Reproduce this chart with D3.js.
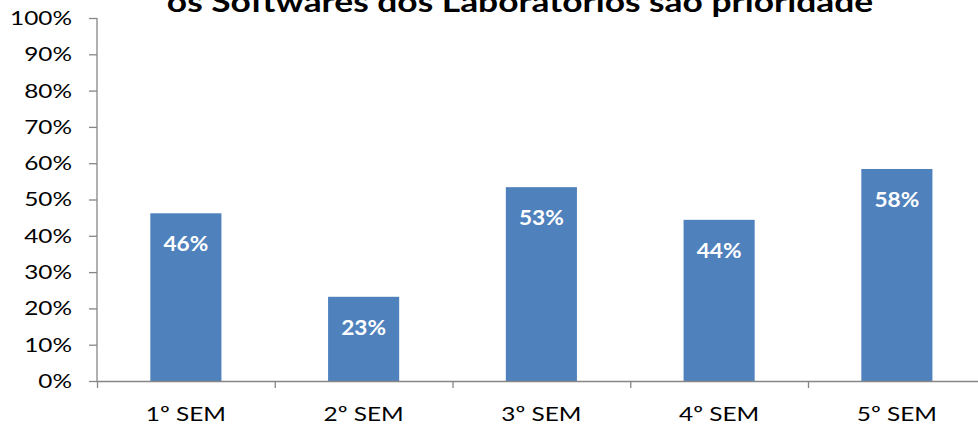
<!DOCTYPE html>
<html><head><meta charset="utf-8">
<script src="https://cdn.jsdelivr.net/npm/d3@7"></script>
<style>
body{margin:0;background:#fff;}
svg{display:block;font-family:Lato,"Open Sans",sans-serif;}
</style></head>
<body>
<svg id="chart" width="978" height="429"></svg>
<script>
const title = "os Softwares  dos Laboratórios são prioridade";
const categories = ["1º SEM","2º SEM","3º SEM","4º SEM","5º SEM"];
const values = [46.2, 23.2, 53.4, 44.4, 58.4];
const valueLabels = ["46%","23%","53%","44%","58%"];
const yTicks = [0,10,20,30,40,50,60,70,80,90,100];

const svg = d3.select("#chart");
const x0 = 97, x1 = 985.75, yTop = 18, yBot = 381;
const SX = 1.22;
const x = d3.scaleBand().domain(categories).range([x0, x1]).paddingInner(0.6).paddingOuter(0.3);
const y = d3.scaleLinear().domain([0,100]).range([yBot, yTop]);

svg.append("text").attr("transform", `translate(520,12) scale(${SX},1)`).attr("text-anchor","middle")
  .attr("font-size", 29).attr("font-weight","bold").attr("fill","#000").text(title);

svg.append("g").selectAll("rect").data(values).join("rect")
  .attr("x",(d,i)=>x(categories[i])).attr("width",x.bandwidth())
  .attr("y",d=>y(d)).attr("height",d=>yBot-y(d)).attr("fill","#4f81bd");

svg.append("g").selectAll("text").data(values).join("text")
  .attr("transform",(d,i)=>`translate(${x(categories[i])+x.bandwidth()/2},${y(d)+38}) scale(1.08,1)`)
  .attr("text-anchor","middle").attr("font-size",21).attr("font-weight","bold")
  .attr("fill","#fff").text((d,i)=>valueLabels[i]);

const yAxis = d3.axisLeft(y).tickValues(yTicks).tickFormat(d=>d+"%").tickSize(8).tickPadding(14);
const gy = svg.append("g").attr("transform",`translate(${x0},0)`).call(yAxis);
const xt = d3.scaleLinear().domain([0,5]).range([x0,x1]);
const xAxis = d3.axisBottom(xt).tickValues([0,1,2,3,4,5]).tickFormat("").tickSize(7).tickSizeOuter(0);
const gx = svg.append("g").attr("transform",`translate(0,${yBot})`).call(xAxis);
[gy,gx].forEach(g=>{
  g.selectAll("path,line").attr("stroke","#868686").attr("stroke-width",1.3);
});
gy.selectAll("text").attr("font-size",20).attr("fill","#000")
  .attr("font-family","Lato,'Open Sans',sans-serif")
  .attr("x",-25/SX).attr("transform",`scale(${SX},1)`);
gy.select(".domain").attr("d",`M0,${yTop}V${yBot}`);

svg.append("g").selectAll("text").data(categories).join("text")
  .attr("transform",d=>`translate(${x(d)+x.bandwidth()/2},421) scale(${SX},1)`)
  .attr("text-anchor","middle").attr("font-size",20).attr("fill","#000").text(d=>d);
</script>
</body></html>
